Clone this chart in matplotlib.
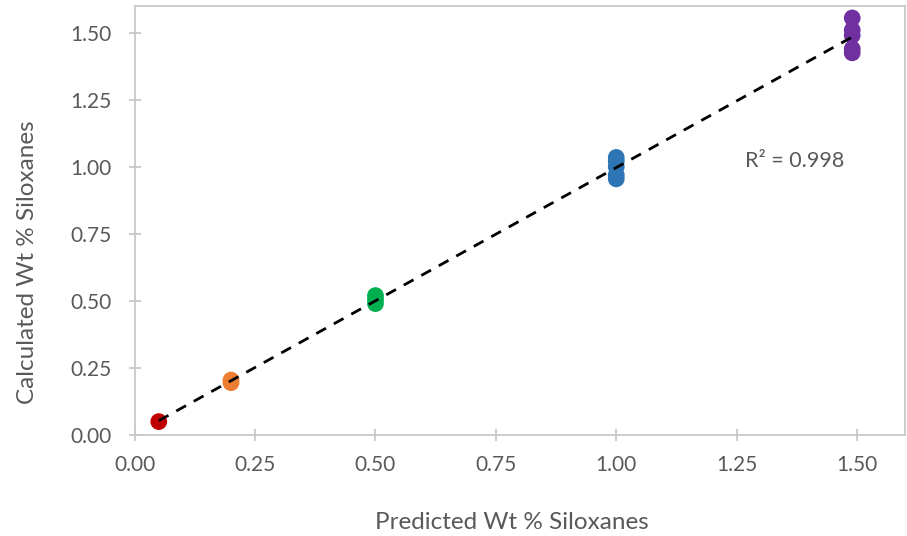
import matplotlib.pyplot as plt
import numpy as np

plt.rcParams['font.family'] = ['Lato', 'DejaVu Sans']

# predicted vs calculated wt % siloxanes, one colour per level
levels = ['0.05', '0.2', '0.5', '1.0', '1.5']
predicted = [
    [0.05],
    [0.20, 0.20],
    [0.50, 0.50, 0.50],
    [1.00, 1.00, 1.00, 1.00, 1.00],
    [1.49, 1.49, 1.49, 1.49, 1.49],
]
calculated = [
    [0.05],
    [0.195, 0.205],
    [0.49, 0.505, 0.52],
    [0.955, 0.97, 1.00, 1.02, 1.035],
    [1.425, 1.44, 1.49, 1.51, 1.555],
]
colors = ['#C00000', '#ED7D31', '#00B050', '#2E75B6', '#7030A0']

xticks = [0.0, 0.25, 0.5, 0.75, 1.0, 1.25, 1.5]
yticks = [0.0, 0.25, 0.5, 0.75, 1.0, 1.25, 1.5]

fig = plt.figure(figsize=(9.07, 5.36), dpi=100)
ax = fig.add_axes([0.1485, 0.1884, 0.8495, 0.8006])

for xs, ys, c in zip(predicted, calculated, colors):
    ax.scatter(xs, ys, s=145, color=c, edgecolors='none', zorder=2)

# linear trendline over all points
allx = np.concatenate([np.array(v) for v in predicted])
ally = np.concatenate([np.array(v) for v in calculated])
m, b = np.polyfit(allx, ally, 1)
xfit = np.array([allx.min(), allx.max()])
ax.plot(xfit, m * xfit + b, color='black', lw=2, ls=(0, (4, 3.2)), zorder=3)

ax.text(1.268, 1.02, 'R² = 0.998', fontsize=15.5, color='#595959',
        ha='left', va='center')

ax.set_xlim(0, 1.6)
ax.set_ylim(0, 1.6)
ax.set_xticks(xticks)
ax.set_yticks(yticks)
ax.set_xticklabels([f'{t:.2f}' for t in xticks])
ax.set_yticklabels([f'{t:.2f}' for t in yticks])

for s in ax.spines.values():
    s.set_color('#C8C8C8')
    s.set_linewidth(1.3)
ax.tick_params(direction='inout', length=9, width=1.3, color='#C8C8C8',
               labelcolor='#595959', labelsize=15)
ax.tick_params(axis='x', pad=10)
ax.tick_params(axis='y', pad=12)

ax.set_xlabel('Predicted Wt % Siloxanes', fontsize=17.5, color='#595959',
              va='center')
ax.set_ylabel('Calculated Wt % Siloxanes', fontsize=17.5, color='#595959',
              va='center')
ax.xaxis.set_label_coords(0.49, -0.205)
ax.yaxis.set_label_coords(-0.139, 0.403)

fig.savefig('out.png', dpi=100)
